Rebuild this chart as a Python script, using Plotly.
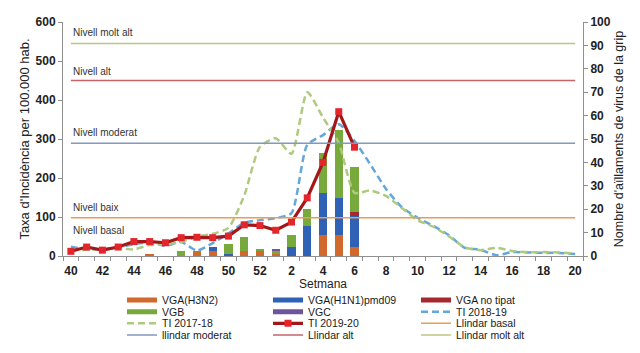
import plotly.graph_objects as go

# ---------------- data ----------------
weeks = [40, 41, 42, 43, 44, 45, 46, 47, 48, 49, 50, 51, 52,
         1, 2, 3, 4, 5, 6, 7, 8, 9, 10, 11, 12, 13, 14, 15, 16, 17, 18, 19, 20]
tick_weeks = [40, 42, 44, 46, 48, 50, 52, 2, 4, 6, 8, 10, 12, 14, 16, 18, 20]

# isolations (right axis)
vga_h3n2 = [0, 0, 0, 0, 0, 1, 0, 0, 2, 2, 0, 2, 2, 1, 0, 0, 9, 9, 4,
            0, 0, 0, 0, 0, 0, 0, 0, 0, 0, 0, 0, 0, 0]
vga_h1n1 = [0, 0, 0, 0, 0, 0, 0, 0, 0, 2, 1, 0, 0, 0, 4, 13, 18, 16, 13,
            0, 0, 0, 0, 0, 0, 0, 0, 0, 0, 0, 0, 0, 0]
vga_notipat = [0, 0, 0, 0, 0, 0, 0, 0, 0, 0, 0, 0, 0, 0, 0, 0, 0, 0, 2,
               0, 0, 0, 0, 0, 0, 0, 0, 0, 0, 0, 0, 0, 0]
vgb = [0, 0, 0, 0, 0, 0, 0, 2, 0, 0, 4, 6, 1, 1, 5, 7, 17, 29, 19,
       0, 0, 0, 0, 0, 0, 0, 0, 0, 0, 0, 0, 0, 0]
vgc = [0, 0, 0, 0, 0, 0, 0, 0, 0, 0, 0, 0, 0, 1, 0, 0, 0, 0, 0,
       0, 0, 0, 0, 0, 0, 0, 0, 0, 0, 0, 0, 0, 0]

# incidence rates (left axis)
ti_2018_19 = [24, 17, 17, 22, 30, 36, 26, 36, 14, 33, 58, 85, 92, 97, 110, 285, 310, 338, 295,
              235, 172, 125, 98, 77, 53, 21, 16, 2, 10, 9, 8, 8, 5]
ti_2017_18 = [15, 16, 17, 20, 17, 28, 30, 36, 50, 57, 72, 155, 280, 302, 262, 420, 355, 290, 162,
              168, 154, 123, 92, 75, 50, 22, 15, 21, 13, 10, 10, 9, 6]
ti_2019_20 = [12, 23, 15, 23, 37, 37, 34, 47, 48, 47, 51, 80, 78, 66, 87, 149, 240, 370, 279,
              None, None, None, None, None, None, None, None, None, None, None, None, None, None]

llindar_basal = 98
llindar_moderat = 289
llindar_alt = 450
llindar_molt_alt = 545

level_names = ["Nivell molt alt", "Nivell alt", "Nivell moderat", "Nivell baix", "Nivell basal"]
level_label_values = [573, 473, 317, 125, 66]

# ---------------- figure ----------------
FONT = "Liberation Sans, Arial, sans-serif"
xs = list(range(len(weeks)))
tickvals = [weeks.index(w) for w in tick_weeks]

fig = go.Figure()

# legend slots (row-major, 3 columns x 4 rows), container coordinates
col_text_x = [164, 310, 458]
row_y = [300, 311.7, 323.3, 335]
PL, PR, PT, PB = 63, 57, 22, 97
W, H = 640, 353
plot_h = H - PT - PB


def legend_id(k):
    return "legend" if k == 0 else f"legend{k+1}"


legend_layouts = {}
for k in range(12):
    r, c = divmod(k, 3)
    left_px = col_text_x[c] - 42
    legend_layouts[legend_id(k)] = dict(
        x=left_px / W, y=1 - row_y[r] / H, xref="container", yref="container",
        xanchor="left", yanchor="middle", orientation="h",
        bgcolor="rgba(0,0,0,0)", borderwidth=0,
        font=dict(family=FONT, size=10.5, color="#1a1a1a"),
    )

bar_series = [
    ("VGA(H3N2)", vga_h3n2, "#D2692C", 0),
    ("VGA(H1N1)pmd09", vga_h1n1, "#2F62B5", 1),
    ("VGA no tipat", vga_notipat, "#A52A2E", 2),
    ("VGB", vgb, "#78A93C", 3),
    ("VGC", vgc, "#6E559B", 4),
]
for name, vals, color, k in bar_series:
    fig.add_trace(go.Bar(x=xs, y=vals, name=name, marker=dict(color=color, line=dict(width=0)),
                         yaxis="y", showlegend=False))
    # legend proxy (wide rectangle like the original)
    fig.add_trace(go.Scatter(x=[None], y=[None], mode="lines", name=name,
                             line=dict(color=color, width=5), legend=legend_id(k), yaxis="y"))

fig.add_trace(go.Scatter(x=xs, y=ti_2018_19, name="TI 2018-19", mode="lines", yaxis="y2",
                         line=dict(color="#63A7DB", width=2.5, dash="7px,4px", shape="spline", smoothing=0.6),
                         legend=legend_id(5)))
fig.add_trace(go.Scatter(x=xs, y=ti_2017_18, name="TI 2017-18", mode="lines", yaxis="y2",
                         line=dict(color="#AECA7E", width=2.5, dash="7px,4px", shape="spline", smoothing=0.6),
                         legend=legend_id(6)))
fig.add_trace(go.Scatter(x=xs, y=ti_2019_20, name="TI 2019-20", mode="lines+markers", yaxis="y2",
                         line=dict(color="#A3161A", width=3.2),
                         marker=dict(symbol="square", size=7, color="#E3262B"),
                         legend=legend_id(7)))

thresholds = [
    ("Llindar basal", llindar_basal, "#EE9A52", 8),
    ("llindar moderat", llindar_moderat, "#8099C0", 9),
    ("Llindar alt", llindar_alt, "#C46467", 10),
    ("Llindar molt alt", llindar_molt_alt, "#BCC683", 11),
]
for name, v, color, k in thresholds:
    fig.add_trace(go.Scatter(x=xs, y=[v] * len(xs), name=name, mode="lines", yaxis="y2",
                             line=dict(color=color, width=1.5), legend=legend_id(k)))

for txt, v in zip(level_names, level_label_values):
    fig.add_annotation(x=0, y=v, xref="x", yref="y2", text=txt, showarrow=False,
                       xanchor="left", yanchor="middle",
                       font=dict(family=FONT, size=10, color="#333333"))

# x-axis title
fig.add_annotation(x=0.5, y=-(284 - (H - PB)) / plot_h, xref="paper", yref="paper",
                   text="Setmana", showarrow=False, xanchor="center", yanchor="middle",
                   font=dict(family=FONT, size=12, color="#222222"))

axis_line = "#8f8f8f"
tickfont = dict(family=FONT, size=12, color="#222222", weight="bold")

fig.update_layout(
    width=W, height=H, margin=dict(l=PL, r=PR, t=PT, b=PB, autoexpand=False),
    plot_bgcolor="white", paper_bgcolor="white",
    barmode="stack", bargap=0.47,
    xaxis=dict(range=[-0.5, len(weeks) - 0.5], tickmode="array", tickvals=tickvals,
               ticktext=[str(w) for w in tick_weeks], ticks="outside", ticklen=4,
               tickcolor="rgba(0,0,0,0)", showline=True,
               linecolor=axis_line, linewidth=1, showgrid=False, zeroline=False,
               tickfont=tickfont, automargin=True,
               minor=dict(tickmode="array", tickvals=[i - 0.5 for i in range(len(weeks) + 1)],
                          ticks="outside", ticklen=4, tickcolor=axis_line, showgrid=False)),
    yaxis=dict(side="right", range=[0, 100], dtick=10, ticks="outside", ticklen=4,
               tickcolor=axis_line, showline=True, linecolor=axis_line, showgrid=False,
               zeroline=False, tickfont=tickfont, automargin=True,
               title=dict(text="Nombre d'aïllaments de virus de la grip",
                          font=dict(family=FONT, size=12.5, color="#222222"), standoff=4)),
    yaxis2=dict(side="left", overlaying="y", range=[0, 600], dtick=100, ticks="outside", ticklen=4,
                tickcolor=axis_line, showline=True, linecolor=axis_line, showgrid=False,
                zeroline=False, tickfont=tickfont, automargin=True,
                title=dict(text="Taxa d'Incidència per 100.000 hab.",
                           font=dict(family=FONT, size=13, color="#222222"), standoff=3)),
    **legend_layouts,
)

fig.write_html("out.html")
